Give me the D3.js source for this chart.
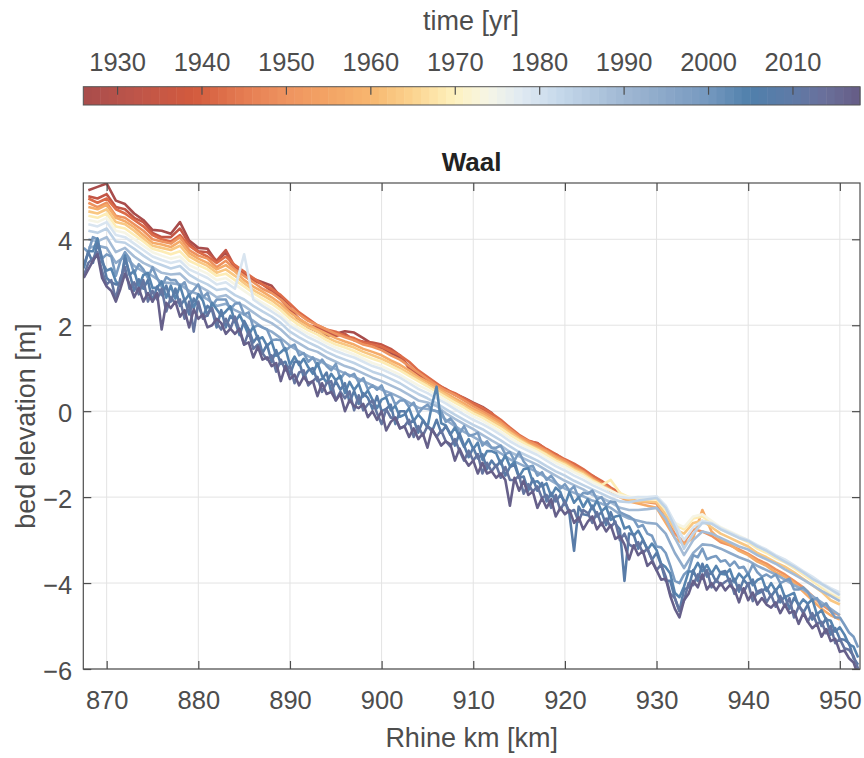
<!DOCTYPE html>
<html>
<head>
<meta charset="utf-8">
<script src="https://cdnjs.cloudflare.com/ajax/libs/d3/7.8.5/d3.min.js"></script>
<style>
  body { margin: 0; background: #fff; }
  text { font-family: "Liberation Sans", Arial, Helvetica, sans-serif; }
</style>
</head>
<body>
<svg id="chart" width="864" height="758"></svg>
<script>
// survey years, first km and spacing of each bed profile
var years   = [1926, 1934, 1942, 1950, 1957, 1963, 1969, 1974, 1979, 1984, 1989, 1994, 1999, 2004, 2008, 2012, 2017];
var startKm = [868, 868, 868, 868, 868, 868, 868, 868, 868, 868, 868, 868, 867.5, 867.5, 867.5, 867.5, 867.5];
var stepKm  = [1, 1, 1, 1, 1, 1, 1, 1, 1, 1, 1, 1, 0.5, 0.5, 0.5, 0.5, 0.5];

var bed1926 = [5.14,5.22,5.3,4.9,4.82,4.6,4.45,4.22,4.2,4.13, 4.4,3.97,3.8,3.78,3.47,3.7,3.3,3.18,3.08,3.0,
  2.92,2.65,2.42,2.1,1.95,1.85,1.75,1.8,1.86,1.83, 1.7,1.56,1.45,1.35,1.25,1.05,0.86,0.7,0.58,0.5,
  0.4,0.31,0.2,0.1,-0.04,-0.3,-0.4,-0.6,-0.7,-0.74, -0.9,-1.05,-1.17,-1.25,-1.4,-1.55,-1.7,-1.85,-2.0];
var bed1934 = [5.0,4.95,5.05,4.75,4.7,4.5,4.4,4.15,4.05,4.05, 4.25,3.9,3.72,3.7,3.5,3.75,3.35,3.2,3.05,2.95,
  2.8,2.6,2.35,2.15,2.0,1.95,1.85,1.75,1.8,1.65, 1.62,1.6,1.55,1.45,1.3,1.0,0.85,0.72,0.62,0.52,
  0.38,0.28,0.15,0.05,-0.1,-0.25,-0.45,-0.65,-0.72,-0.78, -0.95,-1.0,-1.15,-1.3,-1.45,-1.5,-1.65,-1.8,-1.95];
var bed1942 = [4.95,4.85,4.95,4.7,4.6,4.45,4.3,4.1,4.0,3.95, 4.1,3.85,3.7,3.6,3.45,3.6,3.4,3.25,3.1,2.95,
  2.85,2.7,2.5,2.3,2.15,2.0,1.9,1.85,1.75,1.7, 1.6,1.55,1.5,1.4,1.3,1.15,0.95,0.8,0.65,0.5,
  0.42,0.3,0.18,0.08,-0.05,-0.2,-0.38,-0.55,-0.68,-0.75, -0.88,-1.0,-1.12,-1.22,-1.35,-1.5,-1.62,-1.78,-1.9];
var bed1950 = [4.85,4.75,4.85,4.55,4.5,4.35,4.2,4.0,3.95,3.9, 4.05,3.75,3.62,3.55,3.35,3.5,3.3,3.15,3.0,2.85,
  2.75,2.6,2.4,2.25,2.1,2.0,1.9,1.8,1.72,1.65, 1.55,1.5,1.42,1.3,1.2,1.05,0.9,0.75,0.6,0.48,
  0.38,0.25,0.12,0.0,-0.12,-0.25,-0.42,-0.58,-0.7,-0.8, -0.92,-1.05,-1.15,-1.28,-1.4,-1.55,-1.68,-1.82,-1.98,-2.05,
  -2.1,-2.12,-2.15,-2.5,-2.85,-3.05,-2.75,-2.8,-2.9,-3.05, -3.12,-3.22,-3.32,-3.45,-3.55,-3.68,-3.8,-3.95,-4.1,-4.3,
  -4.5,-4.65,-4.75];
var bed1957 = [4.75,4.7,4.8,4.5,4.42,4.28,4.1,3.92,3.88,3.82, 3.95,3.68,3.55,3.45,3.3,3.4,3.25,3.05,2.9,2.78,
  2.65,2.5,2.3,2.15,2.02,1.9,1.8,1.7,1.62,1.55, 1.45,1.38,1.3,1.18,1.08,0.95,0.8,0.68,0.55,0.42,
  0.3,0.18,0.05,-0.05,-0.18,-0.3,-0.48,-0.62,-0.75,-0.85, -0.95,-1.08,-1.2,-1.32,-1.42,-1.58,-1.72,-1.85,-2.0,-2.1,
  -2.15,-2.2,-2.25,-2.6,-2.95,-3.1,-2.95,-2.3,-2.8,-3.0, -3.1,-3.25,-3.35,-3.5,-3.6,-3.75,-3.85,-4.0,-4.2,-4.4,
  -4.6,-4.75,-4.85];
var bed1963 = [4.65,4.6,4.7,4.4,4.35,4.2,4.02,3.85,3.8,3.75, 3.85,3.6,3.48,3.38,3.22,3.3,3.15,2.98,2.82,2.7,
  2.58,2.42,2.22,2.08,1.95,1.85,1.72,1.62,1.55,1.48, 1.38,1.3,1.22,1.12,1.0,0.88,0.75,0.62,0.5,0.38,
  0.25,0.12,0.0,-0.1,-0.22,-0.35,-0.5,-0.65,-0.78,-0.88, -1.0,-1.12,-1.22,-1.35,-1.45,-1.6,-1.72,-1.85,-1.98,-2.05,
  -2.1,-2.1,-2.12,-2.4,-2.75,-2.85,-2.6,-2.55,-2.7,-2.85, -2.95,-3.05,-3.15,-3.3,-3.4,-3.52,-3.62,-3.75,-3.9,-4.05,
  -4.2,-4.4,-4.5];
var bed1969 = [4.55,4.5,4.6,4.3,4.25,4.1,3.95,3.78,3.72,3.65, 3.72,3.5,3.4,3.3,3.15,3.2,3.05,2.9,2.75,2.62,
  2.5,2.35,2.15,2.0,1.88,1.78,1.65,1.55,1.48,1.4, 1.3,1.22,1.15,1.05,0.95,0.82,0.7,0.58,0.45,0.32,
  0.2,0.08,-0.05,-0.15,-0.28,-0.4,-0.55,-0.68,-0.8,-0.9, -1.02,-1.15,-1.25,-1.38,-1.48,-1.62,-1.72,-1.6,-1.9,-2.0,
  -2.02,-2.05,-2.05,-2.3,-2.65,-2.75,-2.5,-2.45,-2.6,-2.75, -2.85,-2.95,-3.05,-3.2,-3.3,-3.42,-3.52,-3.65,-3.8,-3.95,
  -4.1,-4.25,-4.35];
var bed1974 = [4.45,4.4,4.5,4.2,4.15,4.0,3.85,3.7,3.62,3.55, 3.6,3.4,3.3,3.2,3.05,3.1,2.95,2.8,2.65,2.52,
  2.4,2.25,2.05,1.92,1.8,1.7,1.58,1.48,1.4,1.32, 1.22,1.12,1.05,0.95,0.85,0.72,0.6,0.5,0.38,0.25,
  0.12,0.0,-0.12,-0.22,-0.35,-0.48,-0.62,-0.75,-0.85,-0.95, -1.08,-1.2,-1.3,-1.42,-1.52,-1.65,-1.75,-1.85,-1.95,-2.0,
  -2.0,-2.02,-2.0,-2.25,-2.6,-2.7,-2.45,-2.4,-2.55,-2.7, -2.8,-2.9,-3.0,-3.15,-3.25,-3.38,-3.48,-3.6,-3.75,-3.9,
  -4.05,-4.2,-4.3];
var bed1979 = [4.35,4.3,4.4,4.1,4.05,3.9,3.75,3.6,3.52,3.45, 3.5,3.3,3.2,3.1,2.95,3.0,2.85,3.65,2.6,2.45,
  2.32,2.18,1.98,1.85,1.72,1.62,1.5,1.4,1.32,1.25, 1.15,1.05,0.98,0.88,0.78,0.65,0.52,0.42,0.3,0.18,
  0.05,-0.08,-0.2,-0.3,-0.42,-0.55,-0.7,-0.82,-0.92,-1.02, -1.15,-1.28,-1.38,-1.5,-1.6,-1.72,-1.82,-1.92,-2.0,-2.02,
  -2.0,-2.0,-1.98,-2.2,-2.6,-3.0,-2.7,-2.55,-2.6,-2.72, -2.82,-2.92,-3.0,-3.12,-3.22,-3.35,-3.45,-3.58,-3.72,-3.85,
  -4.0,-4.12,-4.22];
var bed1984 = [4.2,4.15,4.25,3.95,3.92,3.78,3.62,3.48,3.4,3.32, 3.38,3.18,3.05,2.95,2.82,2.85,2.7,2.6,2.45,2.32,
  2.2,2.05,1.85,1.72,1.6,1.5,1.38,1.28,1.2,1.12, 1.02,0.92,0.85,0.75,0.65,0.52,0.4,0.3,0.18,0.05,
  -0.08,-0.2,-0.32,-0.42,-0.55,-0.68,-0.82,-0.95,-1.05,-1.15, -1.28,-1.4,-1.5,-1.62,-1.72,-1.82,-1.92,-2.02,-2.1,-2.12,
  -2.08,-2.05,-2.02,-2.25,-2.7,-3.2,-2.85,-2.6,-2.62,-2.75, -2.85,-2.95,-3.02,-3.15,-3.25,-3.38,-3.5,-3.62,-3.75,-3.9,
  -4.02,-4.15,-4.28];
var bed1989 = [4.0,3.95,4.05,3.7,3.8,3.6,3.45,3.35,3.22,3.18, 3.2,3.0,2.92,2.8,2.65,2.7,2.55,2.45,2.3,2.15,
  2.05,1.9,1.7,1.58,1.45,1.38,1.25,1.15,1.05,0.98, 0.88,0.78,0.7,0.6,0.5,0.38,0.25,0.2,0.12,-0.05,
  -0.18,-0.3,-0.42,-0.55,-0.68,-0.8,-0.95,-1.05,-1.15,-1.25, -1.38,-1.5,-1.62,-1.72,-1.82,-1.95,-2.02,-2.12,-2.25,-2.3,
  -2.3,-2.28,-2.25,-2.5,-2.95,-3.35,-3.0,-2.8,-2.85,-2.95, -3.05,-3.15,-3.22,-3.35,-3.45,-3.55,-3.68,-3.8,-3.92,-4.05,
  -4.18,-4.3,-4.42];
var bed1994 = [3.8,3.85,3.8,3.45,3.6,3.38,3.25,3.15,3.0,2.98, 2.95,2.8,2.72,2.6,2.45,2.5,2.35,2.25,2.1,1.95,
  1.85,1.7,1.52,1.4,1.28,1.2,1.08,0.98,0.88,0.8, 0.7,0.6,0.5,0.42,0.32,0.2,0.08,0.05,0.0,-0.2,
  -0.35,-0.48,-0.6,-0.72,-0.85,-0.98,-1.12,-1.22,-1.32,-1.42, -1.55,-1.68,-1.8,-1.9,-1.98,-2.08,-2.15,-2.25,-2.4,-2.5,
  -2.55,-2.6,-2.62,-2.85,-3.3,-3.65,-3.3,-3.1,-3.12,-3.2, -3.3,-3.4,-3.48,-3.6,-3.7,-3.8,-3.92,-4.05,-4.15,-4.3,
  -4.45,-4.6,-4.75];
var bed1999 = [3.8,3.7,4.05,4.0,3.55,3.65,3.6,3.15,3.5,3.7, 3.55,3.2,3.42,3.3,3.1,3.35,3.1,2.9,3.12,3.05,
  3.05,2.9,3.0,2.7,2.82,2.95,2.65,2.75,2.45,2.6, 2.6,2.6,2.37,2.5,2.52,2.25,2.3,1.95,2.0,1.95,
  1.9,1.65,1.67,1.65,1.4,1.5,1.55,1.3,1.35,1.15, 1.25,1.05,1.2,1.05,0.95,1.1,0.75,0.9,0.81,0.87,
  0.67,0.77,0.51,0.6,0.5,0.6,0.35,0.4,0.15,0.25, 0.25,0.1,0.2,-0.05,0.08,0.15,0.03,0.0,0.0,-0.25,
  -0.17,-0.3,-0.52,-0.35,-0.57,-0.55,-0.5,-0.8,-0.7,-0.85, -0.85,-0.8,-1.0,-0.95,-1.15,-0.95,-1.17,-1.3,-1.27,-1.5,
  -1.42,-1.6,-1.5,-1.65,-1.8,-1.7,-1.85,-1.75,-2.02,-1.9, -1.92,-1.85,-2.05,-2.0,-2.2,-2.1,-2.12,-2.35,-2.4,-2.45,
  -2.52,-2.7,-2.65,-2.85,-2.9,-3.15,-3.17,-3.3,-3.6,-3.95, -4.0,-3.8,-3.7,-3.35,-3.4,-3.2,-3.45,-3.4,-3.37,-3.5,
  -3.47,-3.6,-3.5,-3.65,-3.62,-3.8,-3.57,-3.75,-3.85,-3.8, -3.87,-3.8,-4.0,-3.95,-3.9,-4.15,-4.15,-4.1,-4.2,-4.4,
  -4.35,-4.55,-4.47,-4.65,-4.8,-4.8,-4.97,-5.15,-5.25,-5.5];
var bed2004 = [3.32,3.72,3.72,4.02,3.47,3.27,3.32,3.02,2.92,3.62, 3.17,3.27,2.89,3.17,3.22,2.87,2.87,3.02,2.64,2.92,
  2.62,2.92,2.57,2.72,2.39,2.72,2.57,2.22,2.52,2.37, 2.22,2.32,2.44,2.07,2.24,2.02,1.77,1.97,1.67,1.72,
  1.52,1.62,1.29,1.37,1.47,1.07,1.27,1.07,1.22,1.02, 0.87,1.12,0.82,0.67,0.87,0.72,0.82,0.42,0.68,0.49,
  0.64,0.34,0.48,0.27,0.07,0.27,0.32,0.02,0.12,-0.13, -0.08,0.07,-0.23,-0.08,-0.2,-0.38,0.15,0.57,-0.28,-0.33,
  -0.55,-0.38,-0.6,-0.83,-0.65,-0.88,-0.73,-1.13,-0.93,-0.93, -0.98,-1.23,-1.03,-1.28,-1.18,-1.53,-1.35,-1.33,-1.65,-1.63,
  -1.75,-1.68,-1.98,-1.78,-1.88,-2.18,-1.88,-2.13,-2.0,-2.23, -2.05,-2.28,-2.08,-2.33,-2.23,-2.53,-2.45,-2.43,-2.73,-2.68,
  -2.9,-2.78,-2.98,-3.23,-3.08,-3.23,-3.55,-3.63,-3.78,-4.23, -4.33,-4.08,-3.73,-3.73,-3.53,-3.73,-3.58,-3.78,-3.6,-3.78,
  -3.8,-3.68,-3.98,-3.78,-3.9,-3.78,-4.05,-3.93,-3.88,-4.18, -4.0,-4.18,-4.03,-4.33,-4.28,-4.23,-4.53,-4.38,-4.48,-4.38,
  -4.73,-4.63,-4.85,-4.88,-5.13,-5.03,-5.2,-5.43,-5.48,-5.73];
var bed2008 = [3.4,3.7,3.45,3.9,3.55,3.1,3.0,2.95,2.95,3.55, 3.2,2.8,3.07,2.85,3.05,2.55,2.9,2.7,2.92,2.55,
  2.85,2.45,2.6,2.25,2.62,2.45,2.2,2.45,2.35,1.95, 2.35,1.95,2.22,2.1,1.77,2.1,1.9,1.6,1.75,1.35,
  1.55,1.15,1.42,1.1,1.15,0.85,1.15,1.15,0.8,0.95, 1.0,0.7,0.75,0.9,0.45,0.7,0.5,0.65,0.21,0.47,
  0.17,0.42,0.31,0.05,0.35,0.0,0.05,0.15,-0.3,0.0, 0.0,-0.3,-0.2,-0.5,-0.22,-0.35,-0.47,-0.2,-0.5,-0.35,
  -0.52,-0.8,-0.52,-0.8,-1.07,-0.85,-1.1,-1.0,-1.35,-1.15, -1.3,-1.15,-1.5,-1.3,-1.25,-1.55,-1.52,-1.85,-1.57,-1.85,
  -1.67,-2.1,-1.9,-2.1,-1.95,-2.1,-2.4,-3.25,-2.22,-2.4, -2.42,-2.2,-2.45,-2.35,-2.65,-2.35,-2.62,-2.75,-3.95,-2.85,
  -2.87,-3.2,-3.0,-3.2,-3.45,-3.3,-3.57,-3.95,-3.95,-4.35, -4.65,-4.15,-4.1,-3.7,-3.95,-3.55,-3.85,-3.75,-3.97,-3.75,
  -3.72,-4.0,-3.9,-4.2,-3.92,-4.05,-3.92,-4.25,-4.2,-4.1, -4.32,-4.15,-4.45,-4.3,-4.6,-4.35,-4.5,-4.7,-4.5,-4.85,
  -4.7,-5.0,-4.82,-5.2,-5.05,-5.3,-5.32,-5.4,-5.75,-5.9];
var bed2012 = [3.15,3.45,3.55,3.7,3.25,2.95,3.05,2.6,3.1,3.35, 2.85,3.0,2.72,3.05,2.55,2.8,2.6,2.85,2.32,2.65,
  2.5,2.6,2.15,2.55,1.85,2.55,2.15,2.25,2.4,2.05, 1.9,2.15,1.92,2.2,1.87,1.55,1.85,1.45,1.55,1.35,
  1.2,1.3,0.92,1.2,0.95,1.05,0.65,0.9,0.95,0.6, 0.7,0.8,0.45,0.65,0.7,0.25,0.45,0.3,0.46,0.02,
  0.37,0.02,0.16,0.25,-0.05,-0.3,0.05,-0.15,-0.15,-0.4, -0.35,-0.2,-0.6,-0.35,-0.57,-0.35,-0.42,-0.6,-0.45,-0.7,
  -0.82,-0.65,-0.92,-1.15,-0.92,-1.15,-1.0,-1.45,-1.2,-1.4, -1.25,-1.55,-1.3,-1.6,-1.6,-1.5,-1.92,-1.7,-1.87,-1.75,
  -2.02,-1.95,-2.25,-1.95,-2.3,-2.1,-2.35,-2.3,-2.57,-2.3, -2.37,-2.6,-2.35,-2.65,-2.5,-2.7,-2.57,-3.0,-2.85,-3.1,
  -3.17,-3.05,-3.3,-3.2,-3.45,-3.7,-3.57,-3.85,-4.25,-4.35, -4.65,-4.4,-4.0,-4.05,-3.8,-3.9,-3.7,-4.1,-3.92,-4.05,
  -3.97,-3.9,-4.25,-4.05,-4.22,-4.0,-4.42,-4.2,-4.15,-4.45, -4.27,-4.55,-4.3,-4.55,-4.35,-4.8,-4.55,-4.65,-4.9,-4.7,
  -4.95,-4.9,-5.17,-5.0,-5.4,-5.3,-5.52,-5.55,-5.7,-6.0];
var bed2017 = [3.1,3.3,3.5,3.65,3.1,2.9,2.8,2.55,2.85,3.2, 2.95,2.65,2.87,2.55,2.75,2.55,2.75,1.9,2.52,2.4,
  2.55,2.2,2.35,1.95,2.37,2.15,2.25,1.95,2.0,2.15, 2.05,1.8,1.92,1.8,1.92,1.55,1.6,1.25,1.5,1.2,
  1.25,1.05,1.12,0.7,1.05,0.75,0.85,0.6,0.8,0.65, 0.7,0.35,0.65,0.4,0.45,0.25,0.4,0.0,0.26,0.12,
  0.07,0.17,-0.14,0.0,-0.2,0.0,-0.45,-0.25,-0.15,-0.4, -0.35,-0.6,-0.4,-0.65,-0.52,-0.85,-0.42,-0.6,-0.8,-0.7,
  -0.77,-1.15,-0.87,-1.1,-1.27,-1.15,-1.45,-1.2,-1.45,-1.4, -1.55,-1.45,-1.6,-2.2,-1.55,-1.85,-1.62,-1.95,-1.87,-2.25,
  -2.02,-2.25,-2.05,-2.45,-2.25,-2.4,-2.3,-2.6,-2.47,-2.75, -2.57,-2.45,-2.75,-2.6,-2.8,-2.65,-2.97,-2.9,-3.1,-3.45,
  -3.12,-3.35,-3.25,-3.6,-3.5,-3.7,-3.92,-3.9,-4.3,-4.6, -4.8,-4.4,-4.25,-3.95,-4.1,-3.8,-4.15,-4.0,-4.17,-4.0,
  -4.17,-4.05,-4.15,-4.45,-4.12,-4.4,-4.22,-4.5,-4.35,-4.5, -4.57,-4.45,-4.7,-4.5,-4.7,-4.65,-4.95,-4.7,-4.9,-5.05,
  -4.95,-5.25,-5.07,-5.35,-5.3,-5.6,-5.57,-5.75,-5.85,-6.15];

var profiles = [bed1926, bed1934, bed1942, bed1950, bed1957, bed1963, bed1969, bed1974,
                bed1979, bed1984, bed1989, bed1994, bed1999, bed2004, bed2008, bed2012, bed2017];

// colour map anchors (time -> colour)
var cmapYears  = [1926, 1932, 1939, 1945, 1950, 1955, 1960, 1965, 1970, 1974,
                  1978, 1982, 1986, 1990, 1995, 2000, 2005, 2010, 2014, 2018];
var cmapColors = ["#a84c4b", "#bd554a", "#d25a3d", "#e57c52", "#ee935f", "#f3a465", "#f7b66f", "#fbd38e", "#fef2bf", "#f6f5e6",
                  "#dfe9f2", "#c8daeb", "#b3c9e0", "#a0b8d3", "#8ba8c9", "#7598bf", "#4f7fab", "#5f7aa6", "#6a6f9a", "#655b85"];

var xTicks  = [870, 880, 890, 900, 910, 920, 930, 940, 950];
var yTicks  = [-6, -4, -2, 0, 2, 4];
var cbTicks = [1930, 1940, 1950, 1960, 1970, 1980, 1990, 2000, 2010];

var plotL = 83.3, plotR = 860, plotT = 183, plotB = 669;
var cbTop = 86.7, cbBottom = 105;

var svg = d3.select("#chart");

var x = d3.scaleLinear().domain([867.45, 952.2]).range([plotL, plotR]);
var y = d3.scaleLinear().domain([-6, 5.31]).range([plotB, plotT]);
var cx = d3.scaleLinear().domain([1926, 2018]).range([plotL, plotR]);
var colour = d3.scaleLinear().domain(cmapYears).range(cmapColors).interpolate(d3.interpolateRgb);

// ---- colour bar ----
var cb = svg.append("g");
cb.selectAll("rect.band")
    .data(d3.range(1926, 2018))
    .enter()
    .append("rect")
    .attr("class", "band")
    .attr("x", function (d) { return cx(d); })
    .attr("y", cbTop)
    .attr("width", function (d) { return cx(d + 1) - cx(d) + 0.5; })
    .attr("height", cbBottom - cbTop)
    .attr("fill", function (d) { return colour(d + 0.5); });

cb.append("rect")
    .attr("x", plotL).attr("y", cbTop)
    .attr("width", plotR - plotL).attr("height", cbBottom - cbTop)
    .attr("fill", "none").attr("stroke", "#555").attr("stroke-width", 1);

var cbAxis = cb.append("g")
    .attr("transform", "translate(0," + cbTop + ")")
    .call(d3.axisTop(cx).tickValues(cbTicks).tickSizeInner(-8).tickSizeOuter(0).tickPadding(16).tickFormat(d3.format("d")));
cbAxis.select(".domain").remove();

cb.append("text")
    .attr("x", 471).attr("y", 30)
    .attr("text-anchor", "middle")
    .attr("class", "lbl")
    .text("time [yr]");

// ---- grid ----
var grid = svg.append("g").attr("stroke", "#e3e3e3").attr("stroke-width", 1);
grid.selectAll("line.gx").data(xTicks).enter().append("line")
    .attr("class", "gx")
    .attr("x1", function (d) { return x(d); }).attr("x2", function (d) { return x(d); })
    .attr("y1", plotT).attr("y2", plotB);
grid.selectAll("line.gy").data(yTicks).enter().append("line")
    .attr("class", "gy")
    .attr("y1", function (d) { return y(d); }).attr("y2", function (d) { return y(d); })
    .attr("x1", plotL).attr("x2", plotR);

// ---- profiles ----
svg.append("clipPath").attr("id", "plotclip")
    .append("rect").attr("x", plotL).attr("y", plotT).attr("width", plotR - plotL).attr("height", plotB - plotT);

var series = profiles.map(function (vals, k) {
    return {
        year: years[k],
        pts: vals.map(function (v, i) { return [startKm[k] + i * stepKm[k], v]; })
    };
});

var line = d3.line()
    .x(function (d) { return x(d[0]); })
    .y(function (d) { return y(d[1]); });

svg.append("g")
    .attr("clip-path", "url(#plotclip)")
    .selectAll("path.profile")
    .data(series)
    .enter()
    .append("path")
    .attr("class", "profile")
    .attr("d", function (d) { return line(d.pts); })
    .attr("fill", "none")
    .attr("stroke", function (d) { return colour(d.year); })
    .attr("stroke-width", 2.6)
    .attr("stroke-linejoin", "round");

// ---- axes ----
var gx = svg.append("g").attr("transform", "translate(0," + plotB + ")")
    .call(d3.axisBottom(x).tickValues(xTicks).tickSizeInner(-8).tickSizeOuter(0).tickPadding(22));
var gxTop = svg.append("g").attr("transform", "translate(0," + plotT + ")")
    .call(d3.axisTop(x).tickValues(xTicks).tickSizeInner(-8).tickSizeOuter(0).tickFormat(""));
var gy = svg.append("g").attr("transform", "translate(" + plotL + ",0)")
    .call(d3.axisLeft(y).tickValues(yTicks).tickSizeInner(-8).tickSizeOuter(0).tickPadding(11));
var gyRight = svg.append("g").attr("transform", "translate(" + plotR + ",0)")
    .call(d3.axisRight(y).tickValues(yTicks).tickSizeInner(-8).tickSizeOuter(0).tickFormat(""));

[gx, gxTop, gy, gyRight].forEach(function (g) { g.select(".domain").remove(); });
gy.selectAll("text").attr("dy", "0.4em");

svg.append("rect")
    .attr("x", plotL).attr("y", plotT)
    .attr("width", plotR - plotL).attr("height", plotB - plotT)
    .attr("fill", "none").attr("stroke", "#4d4d4d").attr("stroke-width", 1.2);

svg.selectAll(".tick line").attr("stroke", "#4d4d4d").attr("stroke-width", 1.2);
svg.selectAll(".tick text")
    .attr("fill", "#4d4d4d")
    .style("font-family", "'Liberation Sans', Arial, Helvetica, sans-serif")
    .style("font-size", "25.5px");

svg.append("text")
    .attr("class", "lbl")
    .attr("x", (plotL + plotR) / 2).attr("y", 747)
    .attr("text-anchor", "middle")
    .text("Rhine km [km]");

svg.append("text")
    .attr("class", "lbl")
    .attr("transform", "translate(35," + ((plotT + plotB) / 2) + ") rotate(-90)")
    .attr("text-anchor", "middle")
    .text("bed elevation [m]");

svg.selectAll("text.lbl").attr("fill", "#4d4d4d").style("font-size", "27px");

svg.append("text")
    .attr("x", (plotL + plotR) / 2).attr("y", 171)
    .attr("text-anchor", "middle")
    .attr("fill", "#222")
    .style("font-size", "26px")
    .style("font-weight", "bold")
    .text("Waal");
</script>
</body>
</html>
